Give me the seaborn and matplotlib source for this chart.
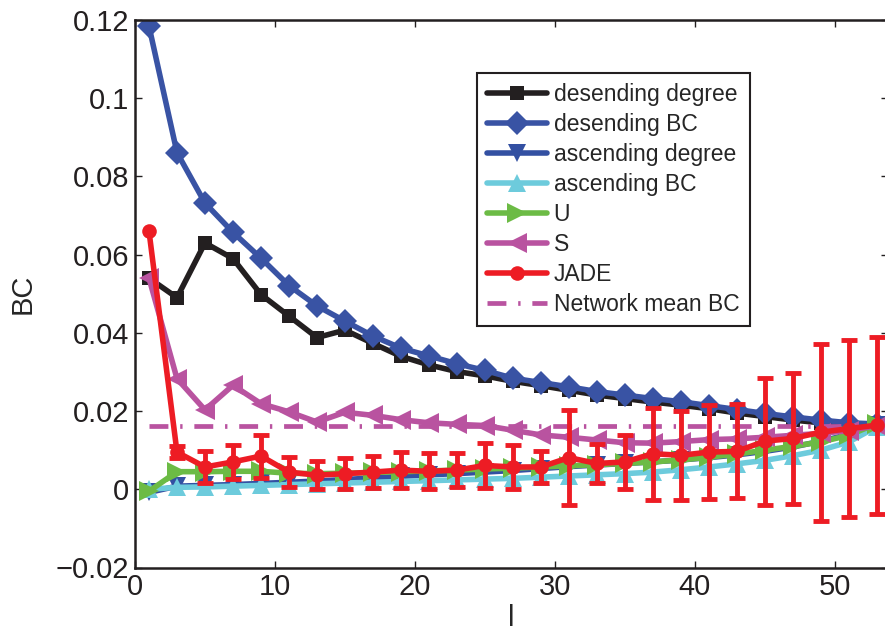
import matplotlib

matplotlib.use("Agg")
import numpy as np
import seaborn as sns
import matplotlib.pyplot as plt

# x positions (l) and series values
l_vals = [1, 3, 5, 7, 9, 11, 13, 15, 17, 19, 21, 23, 25, 27, 29, 31, 33, 35, 37, 39, 41, 43, 45, 47, 49, 51, 53]

desc_degree = [0.054, 0.049, 0.063, 0.059, 0.0498, 0.0443, 0.0388, 0.0407, 0.0373, 0.0340, 0.0318, 0.0301, 0.0290,
               0.0276, 0.0265, 0.0253, 0.0241, 0.0232, 0.0223, 0.0215, 0.0206, 0.0195, 0.0186, 0.0177, 0.0170,
               0.0163, 0.0160]
desc_bc = [0.1184, 0.0861, 0.0732, 0.0657, 0.0591, 0.0521, 0.0469, 0.0430, 0.0392, 0.0361, 0.0341, 0.0321, 0.0304,
           0.0284, 0.0273, 0.0262, 0.0250, 0.0241, 0.0232, 0.0224, 0.0214, 0.0204, 0.0194, 0.0185, 0.0177,
           0.0170, 0.0167]
asc_degree = [-0.0008, 0.0008, 0.0010, 0.0012, 0.0015, 0.0018, 0.0021, 0.0025, 0.0029, 0.0033, 0.0037, 0.0040,
              0.0044, 0.0048, 0.0053, 0.0058, 0.0062, 0.0066, 0.0070, 0.0075, 0.0081, 0.0088, 0.0097, 0.0108,
              0.0123, 0.0140, 0.0164]
asc_bc = [0.0, 0.0005, 0.0006, 0.0008, 0.0010, 0.0012, 0.0014, 0.0016, 0.0018, 0.0020, 0.0022, 0.0024, 0.0026,
          0.0028, 0.0031, 0.0034, 0.0037, 0.0040, 0.0044, 0.0050, 0.0057, 0.0065, 0.0074, 0.0086, 0.0100,
          0.0121, 0.0160]
u_vals = [-0.0005, 0.0045, 0.0045, 0.0046, 0.0046, 0.0041, 0.0040, 0.0041, 0.0043, 0.0045, 0.0047, 0.0049, 0.0052,
          0.0054, 0.0057, 0.0060, 0.0063, 0.0066, 0.0070, 0.0075, 0.0082, 0.0090, 0.0100, 0.0110, 0.0121,
          0.0138, 0.0168]
s_vals = [0.054, 0.0283, 0.0203, 0.0266, 0.0219, 0.0198, 0.0172, 0.0197, 0.0189, 0.0178, 0.0170, 0.0166, 0.0163,
          0.0151, 0.0139, 0.0133, 0.0126, 0.0119, 0.0118, 0.0122, 0.0127, 0.0129, 0.0133, 0.0138, 0.0143,
          0.0150, 0.0163]
jade_mean = [0.066, 0.0095, 0.0057, 0.0070, 0.0085, 0.0044, 0.0036, 0.0040, 0.0044, 0.0049, 0.0046, 0.0049, 0.0061,
             0.0057, 0.0057, 0.0081, 0.0066, 0.0070, 0.0091, 0.0087, 0.0095, 0.0097, 0.0123, 0.0130, 0.0146,
             0.0155, 0.0164]
# first point has no visible error bar
jade_err = [np.nan, 0.0015, 0.0040, 0.0043, 0.0055, 0.0038, 0.0036, 0.0040, 0.0041, 0.0046, 0.0046, 0.0043, 0.0058,
            0.0056, 0.0040, 0.0121, 0.0051, 0.0068, 0.0118, 0.0114, 0.0120, 0.0120, 0.0162, 0.0168, 0.0226,
            0.0226, 0.0226]
network_mean_bc = 0.0162

y_ticks = [-0.02, 0, 0.02, 0.04, 0.06, 0.08, 0.1, 0.12]
y_tick_labels = ["\u22120.02", "0", "0.02", "0.04", "0.06", "0.08", "0.1", "0.12"]
x_ticks = [0, 10, 20, 30, 40, 50]

sns.set_style("ticks")
plt.rcParams["font.family"] = ["Liberation Sans", "DejaVu Sans"]

fig = plt.figure(figsize=(8.85, 6.38), dpi=100)
ax = fig.add_axes([135 / 885, 70.5 / 638, 753 / 885, 547.5 / 638])

lw = 4.0
sns.lineplot(x=l_vals, y=desc_degree, ax=ax, color="#231f20", marker="s", markersize=10,
             markeredgewidth=0, linewidth=lw, label="desending degree")
sns.lineplot(x=l_vals, y=desc_bc, ax=ax, color="#3953a4", marker="D", markersize=12,
             markeredgewidth=0, linewidth=lw, label="desending BC")
sns.lineplot(x=l_vals, y=asc_degree, ax=ax, color="#3350a2", marker="v", markersize=13,
             markeredgewidth=0, linewidth=lw, label="ascending degree")
sns.lineplot(x=l_vals, y=asc_bc, ax=ax, color="#6dcbdc", marker="^", markersize=13,
             markeredgewidth=0, linewidth=lw, label="ascending BC")
sns.lineplot(x=l_vals, y=u_vals, ax=ax, color="#6cbb45", marker=">", markersize=14,
             markeredgewidth=0, linewidth=lw, label="U")
sns.lineplot(x=l_vals, y=s_vals, ax=ax, color="#b953a0", marker="<", markersize=14,
             markeredgewidth=0, linewidth=lw, label="S")

# JADE with error bars
ax.errorbar(l_vals, jade_mean, yerr=jade_err, fmt="none", ecolor="#ed1c24",
            elinewidth=3.5, capsize=6, capthick=3.5, zorder=5)
sns.lineplot(x=l_vals, y=jade_mean, ax=ax, color="#ed1c24", marker="o", markersize=10.5,
             markeredgewidth=0, linewidth=lw, label="JADE", zorder=6)

# network mean line
sns.lineplot(x=[l_vals[0], l_vals[-1]], y=[network_mean_bc, network_mean_bc], ax=ax,
             color="#b953a0", linewidth=3.4, linestyle=(0, (4, 2.5, 0.5, 2.5)),
             label="Network mean BC", zorder=4)

ax.set_xlim(0, 53.8)
ax.set_ylim(-0.02, 0.12)
ax.set_xticks(x_ticks)
ax.set_xticklabels([str(t) for t in x_ticks])
ax.set_yticks(y_ticks)
ax.set_yticklabels(y_tick_labels)
ax.tick_params(direction="in", length=5, width=1, top=True, right=True,
               labelsize=21, colors="#231f20", pad=4)
for sp in ax.spines.values():
    sp.set_linewidth(1.8)
    sp.set_color("#231f20")

ax.set_xlabel("l", fontsize=21, labelpad=2)
ax.set_ylabel("BC", fontsize=21, labelpad=14)

leg = ax.legend(loc="upper left", bbox_to_anchor=(0.454, 0.903), borderaxespad=0, fontsize=16.5,
                frameon=True, fancybox=False, framealpha=1, edgecolor="#231f20",
                handlelength=2.6, labelspacing=0.3, borderpad=0.45, handletextpad=0.3)
leg.get_frame().set_linewidth(1.5)

plt.savefig("out.png", dpi=100)
